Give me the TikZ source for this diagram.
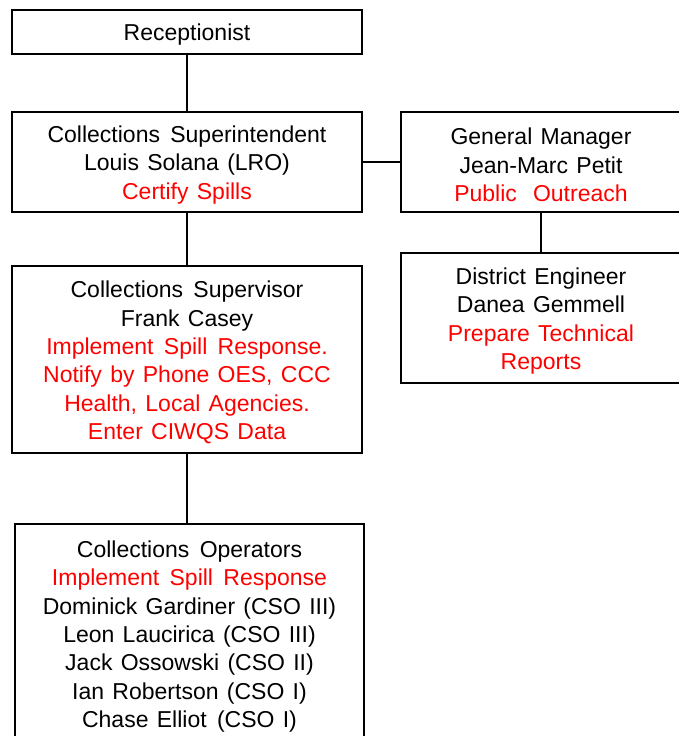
\documentclass[tikz,border=0pt]{standalone}
\usepackage{fontspec}
\setmainfont[WordSpace=1.3]{Liberation Sans}
\definecolor{duty}{RGB}{255,0,0}
\newcommand{\wgap}{\hspace{0.45em}}
\begin{document}
\begin{tikzpicture}[x=1pt,y=-1pt,
  rolebox/.style={draw=black, line width=1.8pt, inner sep=0pt},
  roletext/.style={inner sep=0pt, align=center, yshift=-3pt,
    font=\fontsize{23}{28.3}\selectfont},
  link/.style={draw=black, line width=1.8pt}]
  \clip (0,0) rectangle (679,736);
  \useasboundingbox (0,0) rectangle (679,736);

  % left column: boxes
  \node[rolebox, minimum width=350pt, minimum height=44pt] (recep) at (187,32) {};
  \node[rolebox, minimum width=350pt, minimum height=100pt] (super) at (187,162) {};
  \node[rolebox, minimum width=350pt, minimum height=187pt] (supv) at (187,359.5) {};
  \node[rolebox, minimum width=349pt, minimum height=219pt] (ops) at (189.5,633.5) {};

  % right column: boxes
  \node[rolebox, minimum width=280pt, minimum height=100pt] (gm) at (541,162) {};
  \node[rolebox, minimum width=280pt, minimum height=130pt] (eng) at (541,318) {};

  % box contents
  \node[roletext] (recep-t) at (recep.center) {Receptionist};
  \node[roletext] (super-t) at (super.center)
    {Collections\wgap Superintendent\\Louis Solana (LRO)\\\textcolor{duty}{Certify Spills}};
  \node[roletext] (supv-t) at (supv.center)
    {Collections\wgap Supervisor\\Frank Casey\\
     \textcolor{duty}{Implement\wgap Spill\wgap Response.}\\
     \textcolor{duty}{Notify by Phone OES, CCC}\\
     \textcolor{duty}{Health, Local Agencies.}\\
     \textcolor{duty}{Enter CIWQS Data}};
  \node[roletext] (ops-t) at (ops.center)
    {Collections\wgap Operators\\
     \textcolor{duty}{Implement\wgap Spill\wgap Response}\\
     Dominick Gardiner (CSO III)\\
     Leon Laucirica (CSO III)\\
     Jack Ossowski (CSO II)\\
     Ian Robertson (CSO I)\\
     Chase Elliot\wgap (CSO I)};
  \node[roletext] (gm-t) at (gm.center)
    {General Manager\\Jean-Marc Petit\\\textcolor{duty}{Public\hspace{0.7em}Outreach}};
  \node[roletext] (eng-t) at (eng.center)
    {District Engineer\\Danea Gemmell\\\textcolor{duty}{Prepare Technical}\\\textcolor{duty}{Reports}};

  % reporting lines
  \draw[link] (recep.south) -- (super.north);
  \draw[link] (super.south) -- (super.south |- supv.north);
  \draw[link] (supv.south) -- (supv.south |- ops.north);
  \draw[link] (super.east) -- (gm.west);
  \draw[link] (gm.south) -- (eng.north);
\end{tikzpicture}
\end{document}
